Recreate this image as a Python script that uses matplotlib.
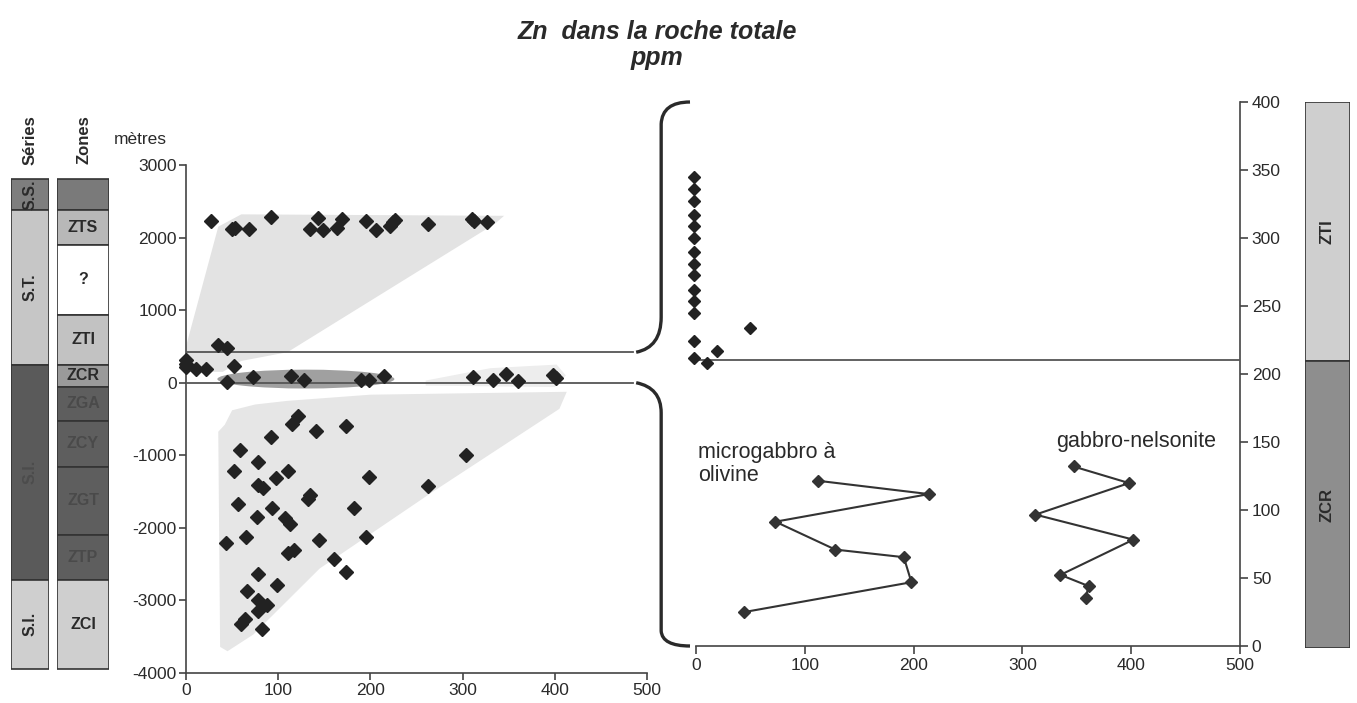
import matplotlib
matplotlib.use("Agg")
import matplotlib.pyplot as plt
from matplotlib.patches import Polygon, Ellipse, Rectangle, PathPatch
from matplotlib.path import Path
import numpy as np

plt.rcParams['font.family'] = ['Liberation Sans', 'DejaVu Sans']
plt.rcParams['axes.unicode_minus'] = False

# ---------------- data ----------------
# Left panel (whole section, depth in m vs Zn ppm)
zts_x = [27, 50, 53, 68, 92, 134, 143, 149, 164, 169, 195, 206, 221, 224, 227, 262, 310, 312, 327]
zts_y = [2231, 2117, 2135, 2117, 2282, 2121, 2273, 2098, 2131, 2259, 2222, 2098, 2162, 2217, 2245, 2190, 2255, 2227, 2208]

zti_x = [0, 0, 0, 35, 44, 11, 22, 52]
zti_y = [313, 262, 222, 519, 474, 195, 195, 227]

zcr_x = [44, 73, 114, 128, 190, 199, 215, 311, 333, 347, 360, 398, 401]
zcr_y = [10, 79, 93, 42, 42, 33, 88, 79, 33, 116, 24, 102, 70]

low_x = [122, 115, 173, 141, 92, 59, 304, 78, 52, 111, 98, 199, 78, 84, 262, 134, 132,
         56, 93, 182, 77, 107, 113, 65, 43, 144, 195, 111, 117, 161, 174, 78, 99, 66,
         78, 88, 78, 64, 60, 82]
low_y = [-454, -564, -601, -665, -748, -922, -995, -1096, -1216, -1216, -1317, -1299, -1413,
         -1446, -1427, -1551, -1597, -1666, -1730, -1730, -1845, -1859, -1950, -2125, -2212,
         -2162, -2125, -2341, -2309, -2424, -2607, -2639, -2790, -2873, -2993, -3062, -3144,
         -3250, -3328, -3392]

# envelopes (fields) on left panel
env_upper_x = [0, 0, 35, 60, 345, 335, 110, 60, 40]
env_upper_y = [150, 500, 2150, 2320, 2300, 2190, 420, 300, 150]
env_right_x = [260, 400, 412, 402, 330, 260]
env_right_y = [-40, -60, 100, 250, 200, 30]
env_lower_x = [42, 50, 75, 110, 200, 413, 405, 268, 145, 73, 45, 37, 35]
env_lower_y = [-580, -380, -300, -250, -165, -125, -360, -1500, -2560, -3470, -3700, -3640, -675]

# Right panel (detail 0-400 m)
det_zti_x = [-2, -2, -2, -2, -2, -2, -2, -2, -2, -2, -2, -2, -2, -2, 50, 19, 10]
det_zti_y = [345, 336, 327, 317, 309, 300, 290, 281, 273, 262, 254, 245, 224, 212, 234, 217, 208]

micro_x = [112, 214, 73, 128, 191, 198, 44]
micro_y = [121.5, 111.7, 91.4, 70.9, 65.3, 46.9, 24.9]
gabbro_x = [347, 398, 312, 402, 335, 361, 358]
gabbro_y = [132, 119.8, 96.6, 78.2, 52.3, 44, 35.5]

# Stratigraphic columns (depth boundaries in m)
series_labels = ['S.S.', 'S.T.', 'S.I.', 'S.I.']
series_top = [2810, 2383, 248, -2713]
series_bot = [2383, 248, -2713, -3940]
series_col = ['#7e7e7e', '#c6c6c6', '#5a5a5a', '#cfcfcf']
series_txt = ['#2a2a2a', '#2a2a2a', '#4c4c4c', '#2a2a2a']

zone_labels = ['', 'ZTS', '?', 'ZTI', 'ZCR', 'ZGA', 'ZCY', 'ZGT', 'ZTP', 'ZCI']
zone_top = [2810, 2383, 1900, 937, 248, -55, -523, -1157, -2094, -2713]
zone_bot = [2383, 1900, 937, 248, -55, -523, -1157, -2094, -2713, -3940]
zone_col = ['#7a7a7a', '#b8b8b8', '#ffffff', '#c2c2c2', '#9a9a9a', '#5e5e5e', '#5e5e5e',
            '#5e5e5e', '#5e5e5e', '#cfcfcf']
zone_txt = ['#2a2a2a', '#2a2a2a', '#2a2a2a', '#2a2a2a', '#2a2a2a', '#4a4a4a', '#4a4a4a',
            '#4a4a4a', '#4a4a4a', '#2a2a2a']

right_zone_labels = ['ZTI', 'ZCR']
right_zone_top = [400, 210]
right_zone_bot = [210, 0]
right_zone_col = ['#cfcfcf', '#8e8e8e']

x_ticks = [0, 100, 200, 300, 400, 500]
left_y_ticks = [3000, 2000, 1000, 0, -1000, -2000, -3000, -4000]
right_y_ticks = [0, 50, 100, 150, 200, 250, 300, 350, 400]

# ---------------- figure ----------------
W, H = 1357, 703
fig = plt.figure(figsize=(W / 100, H / 100), dpi=100)
TXT = '#2a2a2a'

def px_axes(x0, y0, x1, y1):
    return fig.add_axes([x0 / W, 1 - y1 / H, (x1 - x0) / W, (y1 - y0) / H])

# left panel
ax_l = px_axes(186, 165, 647, 673)
ax_l.set_xlim(0, 500)
ax_l.set_ylim(-4000, 3000)
for s in ['top', 'right']:
    ax_l.spines[s].set_visible(False)
for s in ['left', 'bottom']:
    ax_l.spines[s].set_color('#444444')
    ax_l.spines[s].set_linewidth(1.2)
ax_l.set_xticks(x_ticks)
ax_l.set_yticks(left_y_ticks)
ax_l.tick_params(direction='out', length=5, width=1.2, colors='#444444', pad=1.5,
                 labelsize=12.5, labelcolor=TXT)
ax_l.tick_params(axis='x', pad=2.5)
ax_l.patch.set_visible(False)

ax_l.add_patch(Polygon(np.column_stack([env_upper_x, env_upper_y]), closed=True,
                       facecolor='#e3e3e3', edgecolor='none', zorder=1))
ax_l.add_patch(Polygon(np.column_stack([env_right_x, env_right_y]), closed=True,
                       facecolor='#ededed', edgecolor='none', zorder=1))
ax_l.add_patch(Polygon(np.column_stack([env_lower_x, env_lower_y]), closed=True,
                       facecolor='#e6e6e6', edgecolor='none', zorder=1))
ax_l.add_patch(Ellipse((130, 50), 192, 260, facecolor='#a0a0a0', edgecolor='none', zorder=2))

line_end = 485
ax_l.plot([0, line_end], [420, 420], color='#555555', lw=1.3, zorder=3)
ax_l.plot([0, line_end], [0, 0], color='#555555', lw=1.3, zorder=3)

mk = dict(marker='D', ms=6.8, color='#222222', ls='none', zorder=5, clip_on=False)
ax_l.plot(zts_x, zts_y, **mk)
ax_l.plot(zti_x, zti_y, **mk)
ax_l.plot(zcr_x, zcr_y, **mk)
ax_l.plot(low_x, low_y, **mk)

fig.text(140 / W, 1 - 140 / H, 'mètres', fontsize=12.5, color=TXT, ha='center', va='center')

# right panel
ax_r = px_axes(696, 102, 1240, 646)
ax_r.set_xlim(0, 500)
ax_r.set_ylim(0, 400)
for s in ['top', 'left']:
    ax_r.spines[s].set_visible(False)
for s in ['right', 'bottom']:
    ax_r.spines[s].set_color('#444444')
    ax_r.spines[s].set_linewidth(1.2)
ax_r.yaxis.tick_right()
ax_r.set_xticks(x_ticks)
ax_r.set_yticks(right_y_ticks)
ax_r.tick_params(direction='out', length=6, width=1.2, colors='#444444', pad=2.5,
                 labelsize=12.5, labelcolor=TXT)
ax_r.patch.set_visible(False)
ax_r.axhline(210, color='#555555', lw=1.3, zorder=3)

ax_r.plot(det_zti_x, det_zti_y, marker='D', ms=6.5, color='#222222', ls='none',
          zorder=5, clip_on=False)
ax_r.plot(micro_x, micro_y, marker='D', ms=6, color='#333333', lw=1.5, zorder=5)
ax_r.plot(gabbro_x, gabbro_y, marker='D', ms=6, color='#333333', lw=1.5, zorder=5)
ax_r.text(2, 134, 'microgabbro à\nolivine', fontsize=15.5, color=TXT, ha='left',
          va='center', linespacing=1.1)
ax_r.text(331, 150, 'gabbro-nelsonite', fontsize=15.5, color=TXT, ha='left', va='center')

# right zone column
ax_rc = px_axes(1305, 102, 1350, 648)
ax_rc.set_xlim(0, 1)
ax_rc.set_ylim(0, 400)
ax_rc.axis('off')
for lab, t, b, c in zip(right_zone_labels, right_zone_top, right_zone_bot, right_zone_col):
    ax_rc.add_patch(Rectangle((0, b), 1, t - b, facecolor=c, edgecolor='#333333', lw=1.2))
    ax_rc.text(0.5, (t + b) / 2, lab, rotation=90, ha='center', va='center',
               fontsize=12, fontweight='bold', color=TXT)

# left columns
def column(x0, x1, labels, tops, bots, cols, tcols, rotate):
    ax = px_axes(x0, 165, x1, 673)
    ax.set_xlim(0, 1)
    ax.set_ylim(-4000, 3000)
    ax.axis('off')
    for lab, t, b, c, tc in zip(labels, tops, bots, cols, tcols):
        ax.add_patch(Rectangle((0, b), 1, t - b, facecolor=c, edgecolor='#333333', lw=1.2))
        if lab:
            ax.text(0.5, (t + b) / 2, lab, rotation=90 if rotate else 0, ha='center',
                    va='center', fontsize=11.5, fontweight='bold', color=tc)
    return ax

column(11, 49, series_labels, series_top, series_bot, series_col, series_txt, True)
column(57, 109, zone_labels, zone_top, zone_bot, zone_col, zone_txt, False)
fig.text(30 / W, 1 - 140 / H, 'Séries', rotation=90, fontsize=12, fontweight='bold',
         color=TXT, ha='center', va='center')
fig.text(84 / W, 1 - 140 / H, 'Zones', rotation=90, fontsize=12, fontweight='bold',
         color=TXT, ha='center', va='center')

# title
fig.text(657 / W, 1 - 32 / H, 'Zn  dans la roche totale', fontsize=18, fontweight='bold',
         fontstyle='italic', color=TXT, ha='center', va='center')
fig.text(657 / W, 1 - 58 / H, 'ppm', fontsize=18, fontweight='bold', fontstyle='italic',
         color=TXT, ha='center', va='center')

# braces linking the two panels (derived from axes transforms)
inv = fig.transFigure.inverted()
a = ax_l.transData.transform((line_end, 420))
b = ax_r.transData.transform((0, 400))
c = ax_l.transData.transform((line_end, 0))
d = ax_r.transData.transform((0, 0))
xm = a[0] + 28
top_pts = [(a[0] + 3, a[1]), (xm, a[1] + 5), (xm, a[1] + 35), (xm, b[1] - 22),
           (xm + 1, b[1]), (b[0] - 6, b[1])]
bot_pts = [(c[0] + 3, c[1]), (xm, c[1] - 5), (xm, c[1] - 30), (xm, d[1] + 15),
           (xm + 1, d[1]), (d[0] - 6, d[1])]
codes = [Path.MOVETO, Path.CURVE3, Path.CURVE3, Path.LINETO, Path.CURVE3, Path.CURVE3]
for pts in (top_pts, bot_pts):
    fp = inv.transform(np.array(pts))
    fig.patches.append(PathPatch(Path(fp, codes), transform=fig.transFigure,
                                 facecolor='none', edgecolor='#2a2a2a', lw=2.4))

fig.savefig('out.png', dpi=100)
